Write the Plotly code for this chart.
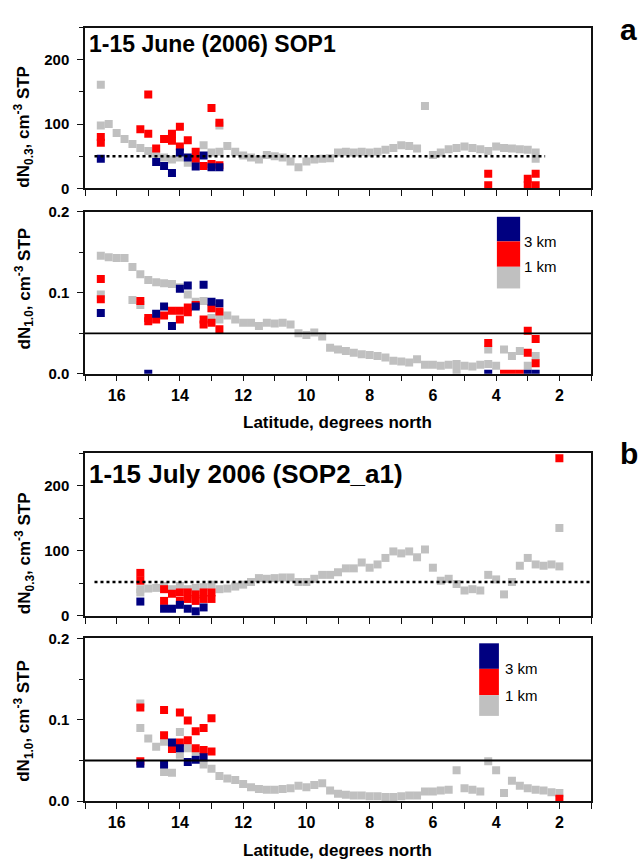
import plotly.graph_objects as go

# ---------------- DATA ----------------
# Panel a (1-15 June 2006, SOP1) - dN0.3
a_top_grey_lat = [16.5,16.5,16.25,16.0,15.75,15.5,15.25,15.0,14.75,14.5,14.25,14.0,13.75,13.5,13.25,13.0,12.75,12.75,12.5,12.25,12.0,11.75,11.5,11.25,11.0,10.75,10.5,10.25,10.0,9.75,9.5,9.25,9.0,8.75,8.5,8.25,8.0,7.75,7.5,7.25,7.0,6.75,6.5,6.25,6.0,5.75,5.5,5.25,5.0,4.75,4.5,4.25,4.0,3.75,3.5,3.25,3.0,2.75,2.75]
a_top_grey_val = [161,98,100,86,77,69,63,58,53,48,45,48,40,44,67,56,98,57,66,57,51,48,45,52,50,48,42,33,42,45,46,47,56,57,56,57,56,57,60,63,67,66,62,128,52,56,61,63,65,63,61,58,65,63,62,61,60,56,46]
a_top_red_lat = [16.5,16.5,15.25,15.0,15.0,14.75,14.5,14.25,14.25,14.0,14.0,13.75,13.5,13.5,13.25,13.0,13.0,12.75,12.75,4.25,4.25,3.0,3.0,2.75,2.75]
a_top_red_val = [80,71,92,146,85,62,77,85,74,96,65,75,57,46,35,125,38,102,36,23,5,15,5,23,5]
a_top_blue_lat = [16.5,14.75,14.5,14.25,14.0,13.75,13.5,13.25,13.0,12.75]
a_top_blue_val = [46,41,35,24,56,48,34,51,33,33]

# Panel a - dN1.0
a_bot_grey_lat = [16.5,16.5,16.25,16.0,15.75,15.5,15.5,15.25,15.25,15.0,14.75,14.5,14.25,14.0,13.75,13.5,13.25,13.0,13.0,12.75,12.75,12.5,12.25,12.0,11.75,11.5,11.25,11.0,10.75,10.5,10.25,10.0,9.75,9.5,9.25,9.0,8.75,8.5,8.25,8.0,7.75,7.5,7.25,7.0,6.75,6.5,6.25,6.0,5.75,5.5,5.25,5.25,5.0,4.75,4.5,4.25,4.25,4.0,3.75,3.5,3.25,3.0,2.75]
a_bot_grey_val = [0.146,0.098,0.144,0.143,0.143,0.132,0.091,0.123,0.085,0.116,0.113,0.112,0.111,0.107,0.098,0.089,0.090,0.081,0.069,0.075,0.067,0.072,0.067,0.063,0.063,0.059,0.063,0.062,0.063,0.061,0.050,0.048,0.051,0.046,0.032,0.030,0.028,0.026,0.024,0.023,0.022,0.020,0.016,0.015,0.014,0.018,0.011,0.011,0.010,0.011,0.012,0.002,0.010,0.009,0.011,0.012,0.030,0.010,0.030,0.022,0.028,0.010,0.022]
a_bot_red_lat = [16.5,16.5,15.25,15.0,15.0,14.75,14.5,14.25,14.0,14.0,13.75,13.75,13.5,13.25,13.25,13.0,13.0,12.75,12.75,4.25,3.75,3.5,3.25,3.0,3.0,2.75,2.75]
a_bot_red_val = [0.117,0.092,0.090,0.069,0.065,0.067,0.072,0.078,0.078,0.067,0.082,0.076,0.085,0.067,0.061,0.081,0.063,0.077,0.055,0.038,0.0,0.0,0.0,0.053,0.026,0.043,0.013]
a_bot_blue_lat = [16.5,15.0,14.75,14.5,14.25,14.0,13.75,13.5,13.25,13.0,12.75,4.25,3.0,2.75]
a_bot_blue_val = [0.075,0.0,0.074,0.083,0.059,0.105,0.109,0.083,0.110,0.089,0.087,0.0,0.0,0.0]

# Panel b (1-15 July 2006, SOP2_a1) - dN0.3
b_top_grey_lat = [15.25,15.25,15.0,14.75,14.5,14.25,14.0,13.75,13.5,13.25,13.0,12.75,12.5,12.25,12.0,11.75,11.5,11.25,11.0,10.75,10.5,10.25,10.0,9.75,9.5,9.25,9.0,8.75,8.5,8.25,8.0,7.75,7.5,7.25,7.0,6.75,6.5,6.25,6.0,5.75,5.5,5.25,5.0,4.75,4.5,4.25,4.0,3.75,3.5,3.25,3.0,2.75,2.5,2.25,2.0,2.0]
b_top_grey_val = [41,36,42,43,46,41,46,41,43,44,48,41,42,45,48,52,58,57,58,59,59,52,52,57,63,63,67,73,73,82,74,79,89,99,96,99,90,102,74,54,57,49,39,41,39,63,56,33,52,77,89,79,77,79,76,135]
b_top_red_lat = [15.25,15.25,14.5,14.5,14.25,14.0,14.0,13.75,13.75,13.5,13.5,13.25,13.25,13.0,13.0,2.0]
b_top_red_val = [66,54,41,23,34,36,23,36,26,33,23,36,26,36,26,242]
b_top_blue_lat = [15.25,14.5,14.25,14.0,13.75,13.5,13.25]
b_top_blue_val = [22,11,11,17,11,7,13]

# Panel b - dN1.0
b_bot_grey_lat = [15.25,15.25,15.0,14.75,14.5,14.5,14.25,14.0,14.0,13.75,13.5,13.25,13.0,12.75,12.5,12.25,12.0,11.75,11.5,11.25,11.0,10.75,10.5,10.25,10.0,9.75,9.5,9.25,9.0,8.75,8.5,8.25,8.0,7.75,7.5,7.25,7.0,6.75,6.5,6.25,6.0,5.75,5.5,5.25,5.0,4.75,4.5,4.25,4.0,3.75,3.5,3.25,3.0,2.75,2.5,2.25,2.0]
b_bot_grey_val = [0.120,0.090,0.077,0.067,0.073,0.036,0.035,0.085,0.057,0.065,0.061,0.045,0.040,0.031,0.028,0.026,0.021,0.017,0.015,0.014,0.014,0.015,0.016,0.019,0.017,0.020,0.022,0.013,0.009,0.008,0.007,0.007,0.006,0.006,0.005,0.005,0.006,0.007,0.007,0.012,0.012,0.013,0.014,0.038,0.016,0.014,0.012,0.049,0.038,0.010,0.025,0.019,0.016,0.014,0.013,0.011,0.010]
b_bot_red_lat = [15.25,15.25,14.5,14.5,14.25,14.0,14.0,13.75,13.75,13.5,13.5,13.25,13.25,13.0,13.0,2.0]
b_bot_red_val = [0.115,0.049,0.112,0.081,0.064,0.109,0.072,0.099,0.075,0.086,0.065,0.090,0.063,0.102,0.061,0.003]
b_bot_blue_lat = [15.25,14.5,14.25,14.0,13.75,13.5,13.25]
b_bot_blue_val = [0.046,0.045,0.072,0.065,0.048,0.051,0.054]

threshold_03 = 50
threshold_10 = 0.05
titles = ["1-15 June (2006) SOP1", "1-15 July 2006 (SOP2_a1)"]
legend_labels = ["3 km", "1 km"]
x_title = "Latitude, degrees north"
y_title_03 = "dN<sub>0.3</sub>, cm<sup>-3</sup> STP"
y_title_10 = "dN<sub>1.0</sub>, cm<sup>-3</sup> STP"

# ---------------- STYLE ----------------
W, H = 642, 868
GREY, RED, BLUE = "#c0c0c0", "#ff0000", "#000080"
FONT = "Liberation Sans, Arial, sans-serif"
MS = 8

def px(x):
    return x / W

def py(y):
    return 1 - y / H

fig = go.Figure()

panels = [
    ("x", "y", a_top_grey_lat, a_top_grey_val, a_top_red_lat, a_top_red_val, a_top_blue_lat, a_top_blue_val),
    ("x2", "y2", a_bot_grey_lat, a_bot_grey_val, a_bot_red_lat, a_bot_red_val, a_bot_blue_lat, a_bot_blue_val),
    ("x3", "y3", b_top_grey_lat, b_top_grey_val, b_top_red_lat, b_top_red_val, b_top_blue_lat, b_top_blue_val),
    ("x4", "y4", b_bot_grey_lat, b_bot_grey_val, b_bot_red_lat, b_bot_red_val, b_bot_blue_lat, b_bot_blue_val),
]
for xa, ya, gl, gv, rl, rv, bl, bv in panels:
    for lat, val, col in ((gl, gv, GREY), (rl, rv, RED), (bl, bv, BLUE)):
        assert len(lat) == len(val)
        fig.add_trace(go.Scatter(x=lat, y=val, xaxis=xa, yaxis=ya, mode="markers",
                                 marker=dict(symbol="square", size=MS, color=col, line=dict(width=0)),
                                 showlegend=False, hoverinfo="skip"))

XDOM = [px(85), px(591)]
# pixel rows (top, bottom) of each plot area
rows = [(19, 183), (207, 372), (453, 619), (642, 808)]

tickfont = dict(family=FONT, size=16, color="black", weight="bold")
ytickfont = dict(family=FONT, size=15, color="black", weight="bold")

def xaxis(show_labels):
    return dict(range=[17, 1], domain=XDOM, showline=True, mirror=True, linecolor="#111", linewidth=1.5,
                ticks="outside", ticklen=6, tickwidth=1.3, tickcolor="#111", dtick=2, tick0=0,
                minor=dict(dtick=1, ticks="outside", ticklen=6, tickwidth=1.3, tickcolor="#111"),
                showgrid=False, zeroline=False, showticklabels=show_labels, tickfont=tickfont)

def yaxis(rng, dt, fmt, row):
    t, b = row
    return dict(range=rng, domain=[py(b), py(t)], showline=True, mirror=True, linecolor="#111", linewidth=1.5,
                ticks="outside", ticklen=6, tickwidth=1.3, tickcolor="#111", dtick=dt, tick0=0,
                minor=dict(dtick=dt / 2, ticks="outside", ticklen=4, tickwidth=1.3, tickcolor="#111"),
                showgrid=False, zeroline=False, tickformat=fmt, tickfont=ytickfont, ticklabelstandoff=5)

layout = dict(width=W, height=H, margin=dict(l=0, r=0, t=0, b=0), paper_bgcolor="white",
              plot_bgcolor="white", showlegend=False)
layout["xaxis"] = dict(xaxis(False), anchor="y")
layout["xaxis2"] = dict(xaxis(True), anchor="y2")
layout["xaxis3"] = dict(xaxis(False), anchor="y3")
layout["xaxis4"] = dict(xaxis(True), anchor="y4")
layout["yaxis"] = dict(yaxis([0, 250], 100, "d", rows[0]), anchor="x")
layout["yaxis2"] = dict(yaxis([0, 0.2], 0.1, ".1f", rows[1]), anchor="x2")
layout["yaxis3"] = dict(yaxis([0, 250], 100, "d", rows[2]), anchor="x3")
layout["yaxis4"] = dict(yaxis([0, 0.2], 0.1, ".1f", rows[3]), anchor="x4")
fig.update_layout(**layout)

shapes = []
# dotted reference lines (top panels)
shapes.append(dict(type="line", xref="x", yref="y", x0=16.7, x1=2.45, y0=threshold_03, y1=threshold_03,
                   line=dict(color="black", width=2.5, dash="dot")))
shapes.append(dict(type="line", xref="x3", yref="y3", x0=16.7, x1=1.0, y0=threshold_03 + 2, y1=threshold_03 + 2,
                   line=dict(color="black", width=2.5, dash="dot")))
# solid reference lines (bottom panels)
shapes.append(dict(type="line", xref="x2 domain", yref="y2", x0=0, x1=1, y0=threshold_10, y1=threshold_10,
                   line=dict(color="black", width=1.8)))
shapes.append(dict(type="line", xref="x4 domain", yref="y4", x0=0, x1=1, y0=threshold_10, y1=threshold_10,
                   line=dict(color="black", width=1.8)))

annotations = []
# Legend-like colour bars
for xr, yr, x0, x1, ys, tx in (
    ("x2 domain", "y2 domain", 0.814, 0.860, [0.970, 0.818, 0.661, 0.527], 0.864),
    ("x4 domain", "y4 domain", 0.779, 0.818, [0.970, 0.813, 0.651, 0.524], 0.826),
):
    for (ya_, yb_), col in zip(((ys[0], ys[1]), (ys[1], ys[2]), (ys[2], ys[3])), (BLUE, RED, GREY)):
        shapes.append(dict(type="rect", xref=xr, yref=yr, x0=x0, x1=x1, y0=yb_, y1=ya_,
                           fillcolor=col, line=dict(width=0), layer="above"))
    for lab, yy in zip(legend_labels, (ys[1], ys[2])):
        annotations.append(dict(text=lab, xref=xr, yref=yr, x=tx, y=yy, xanchor="left", yanchor="middle",
                                showarrow=False, font=dict(family=FONT, size=15, color="black")))

fig.update_layout(shapes=shapes)

# Titles
annotations.append(dict(text=titles[0], xref="paper", yref="paper", x=px(87), y=py(36), xanchor="left",
                        yanchor="middle", showarrow=False, font=dict(family=FONT, size=23, color="black", weight="bold")))
annotations.append(dict(text=titles[1], xref="paper", yref="paper", x=px(87), y=py(474), xanchor="left",
                        yanchor="middle", showarrow=False, font=dict(family=FONT, size=26, color="black", weight="bold")))
# Panel letters
annotations.append(dict(text="a", xref="paper", yref="paper", x=px(628), y=py(21), xanchor="center",
                        yanchor="middle", showarrow=False, font=dict(family=FONT, size=30, color="black", weight="bold")))
annotations.append(dict(text="b", xref="paper", yref="paper", x=px(629), y=py(453), xanchor="center",
                        yanchor="middle", showarrow=False, font=dict(family=FONT, size=30, color="black", weight="bold")))
# X titles
for yy in (422, 858):
    annotations.append(dict(text=x_title, xref="paper", yref="paper", x=px(338), y=py(yy), xanchor="center",
                            yanchor="middle", showarrow=False, font=dict(family=FONT, size=17, color="black", weight="bold")))
# Y titles
for txt, yy in ((y_title_03, 120), (y_title_10, 285), (y_title_03, 555), (y_title_10, 726)):
    annotations.append(dict(text=txt, xref="paper", yref="paper", x=px(24), y=py(yy), xanchor="center",
                            yanchor="middle", textangle=-90, showarrow=False,
                            font=dict(family=FONT, size=17, color="black", weight="bold")))

fig.update_layout(annotations=annotations)
fig.write_html("out.html")
